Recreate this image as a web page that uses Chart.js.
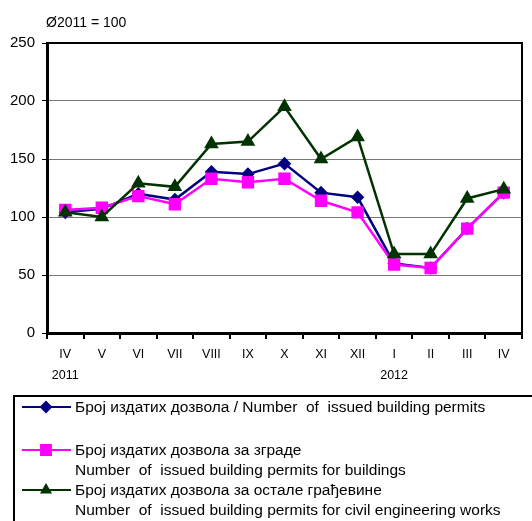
<!DOCTYPE html>
<html>
<head>
<meta charset="utf-8">
<script src="https://cdn.jsdelivr.net/npm/chart.js@4"></script>
<style>
  html, body { margin: 0; padding: 0; background: #fff; }
  #wrap { width: 532px; height: 521px; }
</style>
</head>
<body>
<div id="wrap"><canvas id="chart" width="532" height="521"></canvas></div>
<script>
const months = ['IV', 'V', 'VI', 'VII', 'VIII', 'IX', 'X', 'XI', 'XII', 'I', 'II', 'III', 'IV'];
const years = ['2011', '', '', '', '', '', '', '', '', '2012', '', '', ''];
const totalPermits = [104, 107, 120, 115, 139, 137, 146, 121, 117, 60, 56, 90, 121];
const buildingPermits = [106, 108, 118, 111, 133, 130, 133, 114, 104, 59, 56, 90, 121];
const civilPermits = [104, 100, 129, 126, 163, 165, 195, 150, 169, 68, 68, 116, 124];
const yTicks = [0, 50, 100, 150, 200, 250];
const baseNote = 'Ø2011 = 100';

const legendLabels = [
    ['Број издатих дозвола / Number  of  issued building permits'],
    ['Број издатих дозвола за зграде', 'Number  of  issued building permits for buildings'],
    ['Број издатих дозвола за остале грађевине', 'Number  of  issued building permits for civil engineering works']
];

const labels = months.map(function (m, i) {
    return years[i] ? [m, years[i]] : m;
});

const FONT = '"Liberation Sans", Arial, sans-serif';

// frame, note above the plot and the boxed legend under it
const extras = {
    id: 'extras',
    afterDraw(chart) {
        const ctx = chart.ctx;
        const a = chart.chartArea;
        ctx.save();
        ctx.strokeStyle = '#000';
        ctx.lineWidth = 2;
        ctx.beginPath();
        ctx.moveTo(a.left, a.top);
        ctx.lineTo(a.right, a.top);
        ctx.lineTo(a.right, a.bottom);
        ctx.stroke();

        ctx.fillStyle = '#000';
        ctx.font = '14px ' + FONT;
        ctx.textBaseline = 'middle';
        ctx.fillText(baseNote, 46, 23);

        ctx.lineWidth = 2;
        ctx.strokeRect(14, 396, 600, 200);

        const rows = [407, 450, 490];
        ctx.font = '15.5px ' + FONT;
        chart.data.datasets.forEach(function (ds, i) {
            const y = rows[i];
            ctx.strokeStyle = ds.borderColor;
            ctx.lineWidth = 2;
            ctx.beginPath();
            ctx.moveTo(22, y);
            ctx.lineTo(71, y);
            ctx.stroke();
            Chart.helpers.drawPoint(ctx, {
                pointStyle: ds.pointStyle,
                radius: ds.legendRadius,
                rotation: 0,
                borderWidth: 1
            }, 46, y);
            ctx.fillStyle = ds.borderColor;
            ctx.fill();
            ctx.fillStyle = '#000';
            legendLabels[i].forEach(function (t, j) {
                ctx.fillText(t, 75, y + 1 + j * 20);
            });
        });
        ctx.restore();
    }
};

new Chart(document.getElementById('chart'), {
    type: 'line',
    data: {
        labels: labels,
        datasets: [
            {
                label: legendLabels[0].join(' '),
                data: totalPermits,
                borderColor: '#000080',
                backgroundColor: '#000080',
                pointStyle: 'rectRot',
                pointRadius: 5,
                legendRadius: 5,
                borderWidth: 2.5,
                order: 2
            },
            {
                label: legendLabels[1].join(' '),
                data: buildingPermits,
                borderColor: '#FF00FF',
                backgroundColor: '#FF00FF',
                pointStyle: 'rect',
                pointRadius: 7,
                legendRadius: 7,
                borderWidth: 2.5,
                order: 1
            },
            {
                label: legendLabels[2].join(' '),
                data: civilPermits,
                borderColor: '#003300',
                backgroundColor: '#003300',
                pointStyle: 'triangle',
                pointRadius: 6,
                legendRadius: 5,
                borderWidth: 2.5,
                order: 0
            }
        ]
    },
    options: {
        responsive: false,
        animation: false,
        layout: { padding: { left: 0, top: 43, right: 10, bottom: 138 } },
        plugins: {
            legend: { display: false },
            tooltip: { enabled: false }
        },
        elements: {
            line: { tension: 0 },
            point: { borderWidth: 1, hoverRadius: 6 }
        },
        scales: {
            x: {
                offset: true,
                afterFit: function (s) { s.height = 50; },
                grid: {
                    offset: true,
                    drawOnChartArea: false,
                    color: '#000',
                    lineWidth: 2,
                    tickLength: 6
                },
                border: { color: '#000', width: 3 },
                ticks: {
                    color: '#000',
                    padding: 5,
                    maxRotation: 0,
                    autoSkip: false,
                    font: { family: FONT, size: 12.5, lineHeight: 1.68 }
                }
            },
            y: {
                min: 0,
                max: 250,
                afterFit: function (s) { s.width = 47; },
                afterBuildTicks: function (s) {
                    s.ticks = yTicks.map(function (v) { return { value: v }; });
                },
                grid: {
                    color: '#777',
                    lineWidth: 1,
                    tickColor: '#000',
                    tickLength: 5
                },
                border: { color: '#000', width: 3 },
                ticks: {
                    color: '#000',
                    padding: 7,
                    font: { family: FONT, size: 15 }
                }
            }
        }
    },
    plugins: [extras]
});
</script>
</body>
</html>
